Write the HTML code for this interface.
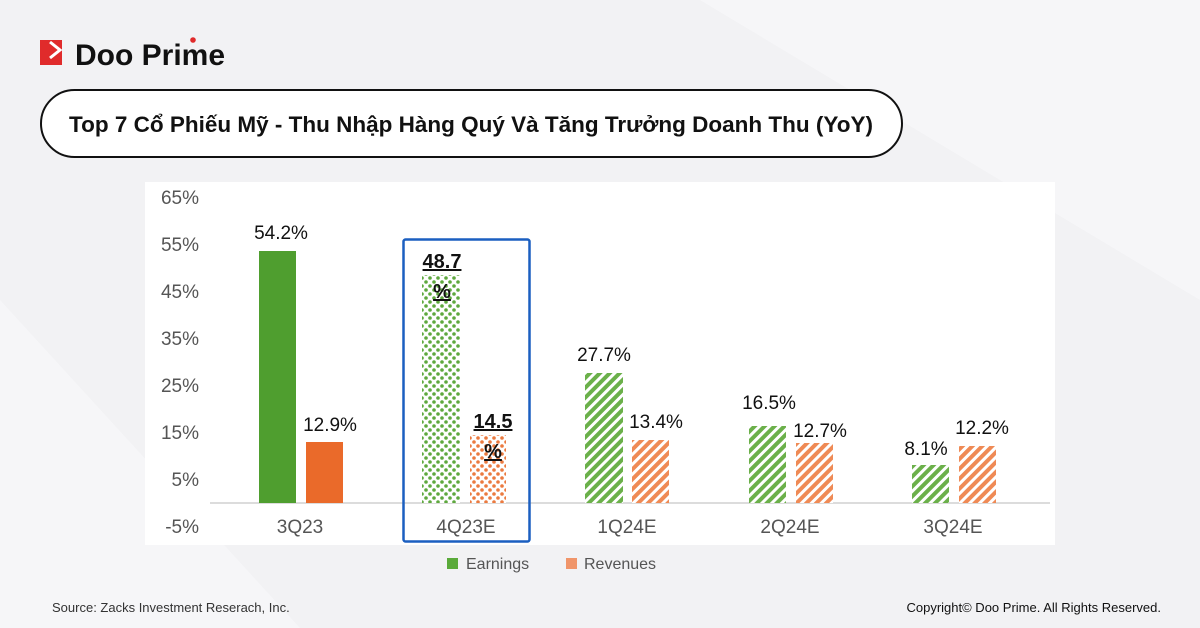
<!DOCTYPE html>
<html><head><meta charset="utf-8"><style>
body{margin:0;width:1200px;height:628px;overflow:hidden;background:#f2f2f4;font-family:"Liberation Sans",sans-serif;position:relative}
.a{position:absolute}
</style></head><body>
<svg class="a" style="left:0;top:0" width="1200" height="628">
<defs>
<pattern id="gs" width="7" height="7" patternUnits="userSpaceOnUse" patternTransform="rotate(45)"><rect width="7" height="7" fill="#fff"/><rect width="4" height="7" fill="#6bb04a"/></pattern>
<pattern id="os" width="7" height="7" patternUnits="userSpaceOnUse" patternTransform="rotate(45)"><rect width="7" height="7" fill="#fff"/><rect width="4" height="7" fill="#ef8a55"/></pattern>
<pattern id="gd" width="8" height="8" patternUnits="userSpaceOnUse"><rect width="8" height="8" fill="#fff"/><circle cx="2" cy="2" r="1.8" fill="#5ea83e"/><circle cx="6" cy="6" r="1.8" fill="#5ea83e"/></pattern>
<pattern id="od" width="8" height="8" patternUnits="userSpaceOnUse"><rect width="8" height="8" fill="#fff"/><circle cx="2" cy="2" r="1.8" fill="#eb7a3f"/><circle cx="6" cy="6" r="1.8" fill="#eb7a3f"/></pattern>
</defs>
<polygon points="700,0 1200,0 1200,300" fill="#f6f6f8"/>
<polygon points="0,300 300,628 0,628" fill="#f6f6f8"/>
<rect x="145" y="182" width="910" height="363" fill="#fff"/>
<line x1="210" y1="503" x2="1050" y2="503" stroke="#d0d0d0" stroke-width="1.5"/>
<rect x="259" y="251" width="37" height="252" fill="#4f9e2f"/>
<rect x="306" y="442" width="37" height="61" fill="#ea6a2a"/>
<rect x="422" y="275" width="38" height="228" fill="url(#gd)"/>
<rect x="470" y="435" width="36" height="68" fill="url(#od)"/>
<rect x="585" y="373" width="38" height="130" fill="url(#gs)"/>
<rect x="632" y="440" width="37" height="63" fill="url(#os)"/>
<rect x="749" y="426" width="37" height="77" fill="url(#gs)"/>
<rect x="796" y="443" width="37" height="60" fill="url(#os)"/>
<rect x="912" y="465" width="37" height="38" fill="url(#gs)"/>
<rect x="959" y="446" width="37" height="57" fill="url(#os)"/>
<rect x="403.5" y="239.5" width="126" height="302" fill="none" stroke="#1b5fc0" stroke-width="2.5" rx="2"/>
<g font-size="19" fill="#555" text-anchor="end">
<text x="199" y="204">65%</text><text x="199" y="251">55%</text><text x="199" y="298">45%</text><text x="199" y="345">35%</text><text x="199" y="392">25%</text><text x="199" y="439">15%</text><text x="199" y="486">5%</text><text x="199" y="533">-5%</text>
</g>
<g font-size="19" fill="#555" text-anchor="middle">
<text x="300" y="533">3Q23</text><text x="466" y="533">4Q23E</text><text x="627" y="533">1Q24E</text><text x="790" y="533">2Q24E</text><text x="953" y="533">3Q24E</text>
</g>
<g font-size="19" fill="#111" text-anchor="middle">
<text x="281" y="239">54.2%</text><text x="330" y="431">12.9%</text>
<text x="604" y="361">27.7%</text><text x="656" y="428">13.4%</text>
<text x="769" y="409">16.5%</text><text x="820" y="437">12.7%</text>
<text x="926" y="455">8.1%</text><text x="982" y="434">12.2%</text>
</g>
<g font-size="20" font-weight="bold" fill="#111" text-anchor="middle" text-decoration="underline">
<text x="442" y="268">48.7</text><text x="442" y="298">%</text>
<text x="493" y="428">14.5</text><text x="493" y="458">%</text>
</g>
<rect x="447" y="558" width="11" height="11" fill="#5aaa3a"/>
<text x="466" y="569" font-size="16" fill="#555">Earnings</text>
<rect x="566" y="558" width="11" height="11" fill="#f0956a"/>
<text x="584" y="569" font-size="16" fill="#555">Revenues</text>
<rect x="40" y="40" width="22" height="25" fill="#e02b2b"/>
<path d="M50 42 L60 50 L50 58" stroke="#fff" stroke-width="3" fill="none"/>
<text x="75" y="65" font-size="30" font-weight="bold" fill="#111">Doo Prime</text>
<circle cx="193" cy="40" r="2.8" fill="#e02b2b"/>
<rect x="41" y="90" width="861" height="67" rx="33.5" fill="#fff" stroke="#111" stroke-width="2"/>
<text x="471" y="132" font-size="22.5" font-weight="bold" fill="#111" text-anchor="middle">Top 7 Cổ Phiếu Mỹ - Thu Nhập Hàng Quý Và Tăng Trưởng Doanh Thu  (YoY)</text>
<text x="52" y="612" font-size="13" fill="#333">Source: Zacks Investment Reserach, Inc.</text>
<text x="1161" y="612" font-size="13" fill="#111" text-anchor="end">Copyright© Doo Prime. All Rights Reserved.</text>
</svg>
</body></html>
